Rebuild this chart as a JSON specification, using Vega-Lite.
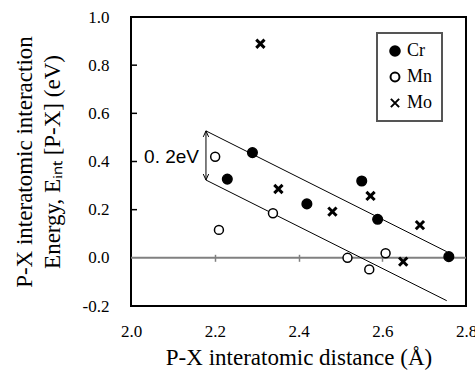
{
  "$schema": "https://vega.github.io/schema/vega-lite/v6.json",
  "width": 335,
  "height": 289,
  "autosize": "none",
  "padding": {"left": 131, "top": 17, "right": 9, "bottom": 65},
  "background": "white",
  "config": {
    "view": {"stroke": "black", "strokeWidth": 2},
    "font": "Liberation Serif",
    "axis": {"labelFont": "Liberation Serif", "titleFont": "Liberation Serif", "labelColor": "black", "titleColor": "black", "titleFontWeight": "normal"},
    "legend": {
      "orient": "none",
      "legendX": 246,
      "legendY": 16,
      "strokeColor": "#555555",
      "strokeWidth": 2,
      "fillColor": "white",
      "padding": 9,
      "rowPadding": 8,
      "labelFontSize": 18,
      "labelFont": "Liberation Serif",
      "labelColor": "black",
      "labelOffset": 3,
      "symbolStrokeWidth": 2
    }
  },
  "datasets": {
    "points": [
      {"metal": "Cr", "d": 2.290, "e": 0.437},
      {"metal": "Cr", "d": 2.230, "e": 0.327},
      {"metal": "Cr", "d": 2.420, "e": 0.224},
      {"metal": "Cr", "d": 2.551, "e": 0.319},
      {"metal": "Cr", "d": 2.589, "e": 0.160},
      {"metal": "Cr", "d": 2.759, "e": 0.005},
      {"metal": "Mn", "d": 2.201, "e": 0.420},
      {"metal": "Mn", "d": 2.210, "e": 0.116},
      {"metal": "Mn", "d": 2.339, "e": 0.185},
      {"metal": "Mn", "d": 2.517, "e": 0.000},
      {"metal": "Mn", "d": 2.569, "e": -0.048},
      {"metal": "Mn", "d": 2.608, "e": 0.019},
      {"metal": "Mo", "d": 2.309, "e": 0.889},
      {"metal": "Mo", "d": 2.352, "e": 0.286},
      {"metal": "Mo", "d": 2.481, "e": 0.192},
      {"metal": "Mo", "d": 2.572, "e": 0.257},
      {"metal": "Mo", "d": 2.650, "e": -0.016},
      {"metal": "Mo", "d": 2.690, "e": 0.136}
    ],
    "trend": [
      {"line": "upper", "d": 2.179, "e": 0.527},
      {"line": "upper", "d": 2.754, "e": 0.0255},
      {"line": "lower", "d": 2.179, "e": 0.323},
      {"line": "lower", "d": 2.754, "e": -0.178}
    ],
    "yticks": [{"v": 0.2}, {"v": 0.4}, {"v": 0.6}, {"v": 0.8}],
    "arrow": [{"d": 2.179, "top": 0.527, "bottom": 0.323}],
    "label": [{"d": 2.1624, "e": 0.419, "text": "0. 2eV"}]
  },
  "layer": [
    {
      "data": {"values": [{}]},
      "mark": {"type": "rule", "color": "#808080", "strokeWidth": 2},
      "encoding": {
        "x": {"datum": 2.0, "type": "quantitative", "axis": null},
        "x2": {"datum": 2.8},
        "y": {"datum": 0, "type": "quantitative", "axis": null}
      }
    },
    {
      "data": {"name": "yticks"},
      "mark": {"type": "rule", "color": "black", "strokeWidth": 1.5},
      "encoding": {
        "x": {"datum": 2.0, "type": "quantitative", "axis": null},
        "x2": {"datum": 2.0143},
        "y": {"field": "v", "type": "quantitative", "axis": null}
      }
    },
    {
      "data": {"name": "trend"},
      "mark": {"type": "line", "color": "black", "strokeWidth": 1},
      "encoding": {
        "x": {"field": "d", "type": "quantitative", "scale": {"domain": [2.0, 2.8], "nice": false, "zero": false},
          "axis": {"orient": "bottom", "title": null, "labels": false, "domain": false, "grid": false, "values": [2.2, 2.4, 2.6], "tickSize": 7, "tickColor": "#808080", "tickWidth": 1.5, "offset": -51.7}},
        "y": {"field": "e", "type": "quantitative", "scale": {"domain": [-0.2, 1.0], "nice": false, "zero": false}, "axis": null},
        "detail": {"field": "line"}
      }
    },
    {
      "data": {"name": "arrow"},
      "mark": {"type": "rule", "color": "black", "strokeWidth": 1},
      "encoding": {
        "x": {"field": "d", "type": "quantitative", "axis": null},
        "y": {"field": "top", "type": "quantitative", "axis": null},
        "y2": {"field": "bottom"}
      }
    },
    {
      "data": {"name": "arrow"},
      "mark": {"type": "point", "shape": "M-0.45,1L0,0L0.45,1", "size": 144, "filled": false, "stroke": "black", "strokeWidth": 1, "opacity": 1},
      "encoding": {
        "x": {"field": "d", "type": "quantitative", "axis": null},
        "y": {"field": "top", "type": "quantitative", "axis": null}
      }
    },
    {
      "data": {"name": "arrow"},
      "mark": {"type": "point", "shape": "M-0.45,-1L0,0L0.45,-1", "size": 144, "filled": false, "stroke": "black", "strokeWidth": 1, "opacity": 1},
      "encoding": {
        "x": {"field": "d", "type": "quantitative", "axis": null},
        "y": {"field": "bottom", "type": "quantitative", "axis": null}
      }
    },
    {
      "data": {"name": "label"},
      "mark": {"type": "text", "align": "right", "baseline": "middle", "font": "Liberation Sans Narrow, Liberation Sans", "fontSize": 19, "color": "black"},
      "encoding": {
        "x": {"field": "d", "type": "quantitative", "axis": null},
        "y": {"field": "e", "type": "quantitative", "axis": null},
        "text": {"field": "text"}
      }
    },
    {
      "data": {"name": "points"},
      "transform": [{"filter": "datum.metal !== 'Mo'"}],
      "mark": {"type": "point", "filled": false, "strokeWidth": 1.5, "opacity": 1},
      "encoding": {
        "x": {"field": "d", "type": "quantitative",
          "axis": {"orient": "bottom", "title": "P-X interatomic distance (Å)", "values": [2.0, 2.2, 2.4, 2.6, 2.8], "format": ".1f", "ticks": false, "tickSize": 0, "domain": false, "grid": false, "labelFontSize": 17, "labelPadding": 17, "labelFlush": false, "titleFontSize": 23, "titlePadding": 7}},
        "y": {"field": "e", "type": "quantitative",
          "axis": {"orient": "left", "title": ["P-X interatomic interaction", "Energy, Eᵢₙₜ [P-X] (eV)"], "values": [-0.2, 0, 0.2, 0.4, 0.6, 0.8, 1.0], "labelExpr": "datum.value < 0 ? '-' + format(-datum.value, '.1f') : format(datum.value, '.1f')", "ticks": false, "tickSize": 0, "domain": false, "grid": false, "labelFontSize": 17, "labelPadding": 22, "labelFlush": false, "titleFontSize": 23, "titleLineHeight": 28, "titleBaseline": "middle", "titleX": -106.5}},
        "shape": {"field": "metal", "type": "nominal", "title": null, "scale": {"domain": ["Cr", "Mn", "Mo"], "range": ["circle", "circle", "M-1,-1L1,1M-1,1L1,-1"]}},
        "fill": {"field": "metal", "type": "nominal", "title": null, "scale": {"domain": ["Cr", "Mn", "Mo"], "range": ["black", "white", "white"]}},
        "stroke": {"field": "metal", "type": "nominal", "title": null, "scale": {"domain": ["Cr", "Mn", "Mo"], "range": ["black", "black", "black"]}},
        "size": {"field": "metal", "type": "nominal", "title": null, "scale": {"domain": ["Cr", "Mn", "Mo"], "range": [92, 68, 72]}}
      }
    },
    {
      "data": {"name": "points"},
      "transform": [{"filter": "datum.metal === 'Mo'"}],
      "mark": {"type": "point", "filled": false, "strokeWidth": 3, "opacity": 1},
      "encoding": {
        "x": {"field": "d", "type": "quantitative", "axis": null},
        "y": {"field": "e", "type": "quantitative", "axis": null},
        "shape": {"field": "metal", "type": "nominal", "title": null},
        "fill": {"field": "metal", "type": "nominal", "title": null},
        "stroke": {"field": "metal", "type": "nominal", "title": null},
        "size": {"field": "metal", "type": "nominal", "title": null}
      }
    }
  ],
  "resolve": {"axis": {"x": "independent", "y": "independent"}}
}
